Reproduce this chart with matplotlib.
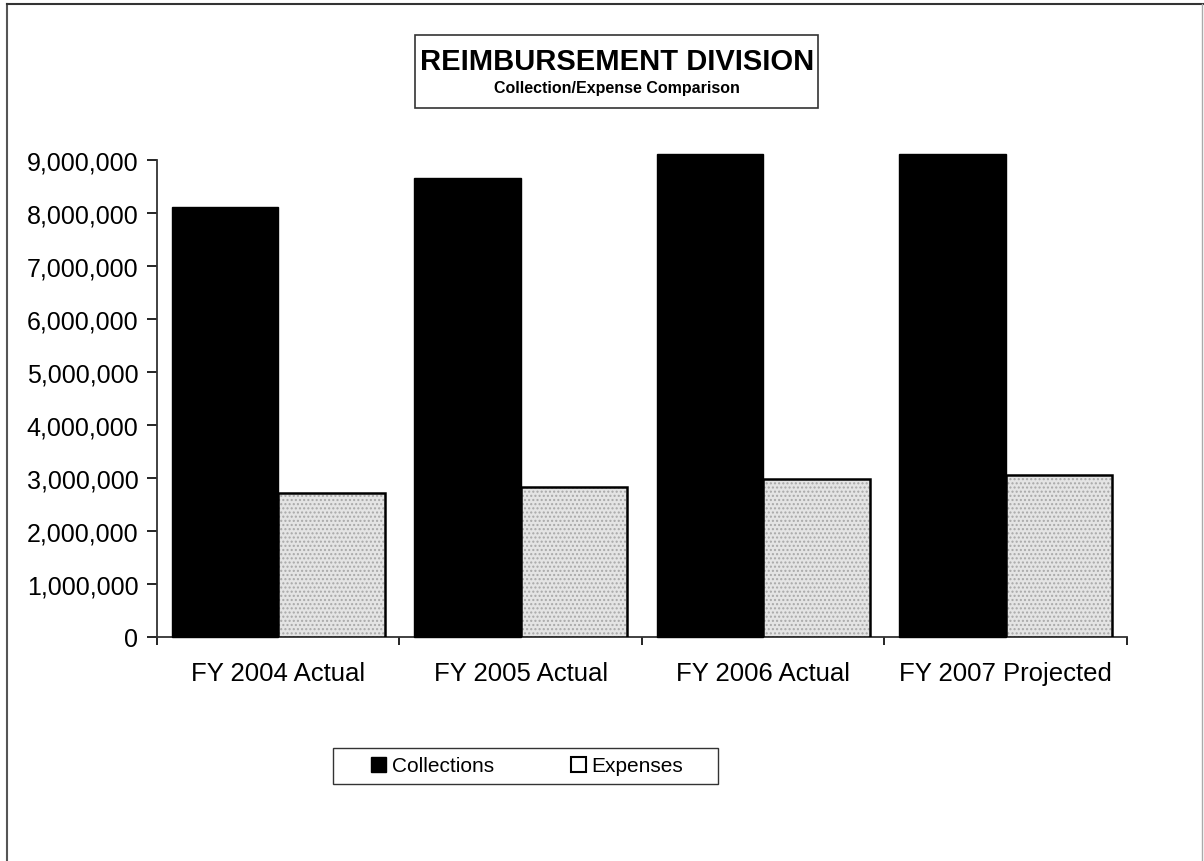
import matplotlib
matplotlib.use("Agg")
import matplotlib.pyplot as plt
from matplotlib.patches import Patch
from matplotlib.lines import Line2D
from matplotlib.ticker import FuncFormatter
import numpy as np

categories = ["FY 2004 Actual", "FY 2005 Actual", "FY 2006 Actual", "FY 2007 Projected"]
collections = [8110000, 8660000, 9100000, 9110000]
expenses = [2720000, 2820000, 2980000, 3060000]
yticks = [0, 1000000, 2000000, 3000000, 4000000, 5000000, 6000000, 7000000, 8000000, 9000000]

plt.rcParams['font.family'] = ['Liberation Sans', 'DejaVu Sans']

fig = plt.figure(figsize=(12.04, 8.62), dpi=100)
ax = fig.add_axes([0.1304, 0.2599, 0.8056, 0.5537])

x = np.arange(len(categories))
w = 0.44
ax.bar(x - w / 2, collections, width=w, color="black", edgecolor="black",
       linewidth=1, clip_on=False, zorder=3)
# stippled fill: light grey with grey dots, then a black outline on top
ax.bar(x + w / 2, expenses, width=w, facecolor="#e4e4e4", edgecolor="#a8a8a8",
       linewidth=0, hatch="....", zorder=3)
ax.bar(x + w / 2, expenses, width=w, fill=False, edgecolor="black",
       linewidth=1.8, zorder=4)

ax.set_xlim(-0.5, len(categories) - 0.5)
ax.set_ylim(0, 9000000)
ax.set_yticks(yticks)
ax.yaxis.set_major_formatter(FuncFormatter(lambda v, p: f"{int(v):,}"))
ax.tick_params(axis="y", direction="out", length=7, width=1.2, labelsize=18, pad=6.5)

ax.set_xticks(np.arange(len(categories) + 1) - 0.5)
ax.set_xticklabels([])
ax.set_xticks(x, minor=True)
ax.set_xticklabels(categories, minor=True)
ax.tick_params(axis="x", which="major", direction="out", length=6, width=1.2)
ax.tick_params(axis="x", which="minor", length=0, labelsize=18.5, pad=17)

for s in ["top", "right"]:
    ax.spines[s].set_visible(False)
for s in ["left", "bottom"]:
    ax.spines[s].set_linewidth(1.3)
    ax.spines[s].set_color("#333333")

# title box
fig.text(0.5125, 1 - 70 / 862, "REIMBURSEMENT DIVISION", ha="center", va="baseline",
         fontsize=21, fontweight="bold")
fig.text(0.5125, 1 - 93.5 / 862, "Collection/Expense Comparison", ha="center", va="baseline",
         fontsize=11.5, fontweight="bold")
fig.add_artist(plt.Rectangle((415 / 1204, 1 - 109 / 862), (818 - 415) / 1204, 73 / 862,
                             fill=False, edgecolor="#333333", linewidth=1.2,
                             transform=fig.transFigure))

# legend entries without frame, box drawn separately (wider than the entries)
handles = [Patch(facecolor="black", edgecolor="black"),
           Patch(facecolor="white", edgecolor="black", linewidth=1.5)]
leg = fig.legend(handles, ["Collections", "Expenses"], loc="center",
                 bbox_to_anchor=(527 / 1204, 1 - 767 / 862), ncol=2, fontsize=15,
                 frameon=False, handlelength=0.75, handleheight=0.75,
                 handletextpad=0.25, columnspacing=3.7, borderpad=0.35,
                 borderaxespad=0)
fig.add_artist(plt.Rectangle((333 / 1204, 1 - 785 / 862), (718 - 333) / 1204, 36 / 862,
                             fill=False, edgecolor="#333333", linewidth=1.0,
                             transform=fig.transFigure))

# outer frame of the scanned chart
fig.add_artist(Line2D([7 / 1204, 7 / 1204], [0, 1 - 5 / 862], color="#555555",
                      linewidth=1.5, transform=fig.transFigure))
fig.add_artist(Line2D([7 / 1204, 1203 / 1204], [1 - 5 / 862, 1 - 5 / 862], color="#333333",
                      linewidth=1.5, transform=fig.transFigure))
fig.add_artist(Line2D([1202 / 1204, 1202 / 1204], [0, 1 - 5 / 862], color="#aaaaaa",
                      linewidth=1, transform=fig.transFigure))

fig.savefig("out.png", dpi=100, facecolor="white")
